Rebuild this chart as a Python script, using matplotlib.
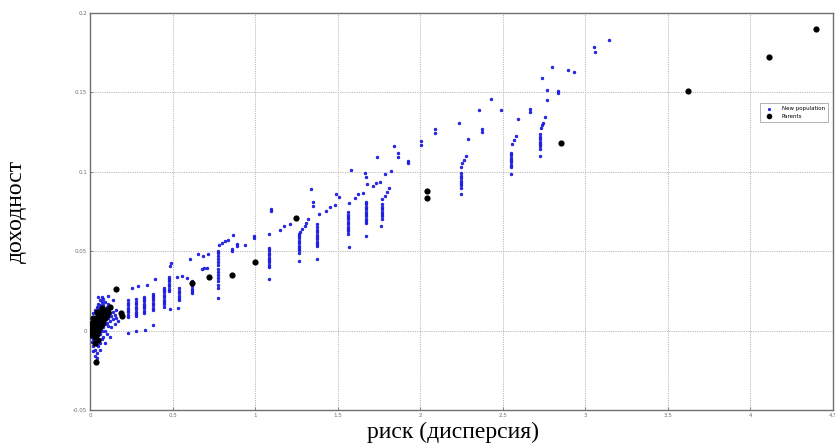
"""Risk / return scatter: new population vs parents."""

import matplotlib.pyplot as plt

OUT_PATH = "out.png"

X_TICKS = [0, 0.5, 1, 1.5, 2, 2.5, 3, 3.5, 4, 4.5]
X_TICK_LABELS = ["0", "0.5", "1", "1.5", "2", "2.5", "3", "3.5", "4", "4.5"]
Y_TICKS = [-0.05, 0, 0.05, 0.1, 0.15, 0.2]
Y_TICK_LABELS = ["-0.05", "0", "0.05", "0.1", "0.15", "0.2"]

# parents (black dots)
PARENT_X = [4.40, 4.11, 3.62, 2.85, 2.04, 2.04, 1.25, 1.00, 0.86, 0.72, 0.615,
            0.16, 0.195, 0.19, 0.035,
            0.00, 0.01, 0.01, 0.02, 0.02, 0.03, 0.03, 0.03, 0.04, 0.04, 0.04,
            0.05, 0.05, 0.05, 0.05, 0.06, 0.06, 0.06, 0.07, 0.07, 0.07, 0.08,
            0.08, 0.09, 0.10, 0.11, 0.02, 0.01, 0.04, 0.03, 0.12, 0.09]
PARENT_Y = [0.190, 0.172, 0.151, 0.118, 0.0876, 0.0838, 0.071, 0.043, 0.035, 0.034, 0.030,
            0.026, 0.009, 0.011, -0.020,
            0.000, 0.002, -0.003, 0.004, -0.001, 0.006, 0.001, -0.004, 0.008, 0.003, -0.002,
            0.010, 0.005, 0.000, -0.006, 0.012, 0.007, 0.002, 0.009, 0.004, 0.014, 0.011,
            0.006, 0.008, 0.010, 0.012, 0.008, 0.005, 0.012, -0.008, 0.015, 0.013]

# new population: dense cloud near the origin
CLOUD_X = [0.00, 0.00, 0.01, 0.01, 0.01, 0.02, 0.02, 0.02, 0.02, 0.03, 0.03, 0.03, 0.03,
           0.04, 0.04, 0.04, 0.04, 0.05, 0.05, 0.05, 0.05, 0.06, 0.06, 0.06, 0.06,
           0.07, 0.07, 0.07, 0.08, 0.08, 0.08, 0.08, 0.09, 0.09, 0.09, 0.10, 0.10, 0.10,
           0.11, 0.11, 0.11, 0.12, 0.12, 0.13, 0.13, 0.13, 0.14, 0.14, 0.15, 0.15,
           0.16, 0.16, 0.17, 0.14, 0.11, 0.07, 0.05, 0.12, 0.09, 0.06, 0.04]
CLOUD_Y = [0.003, -0.004, 0.008, -0.007, 0.000, 0.011, -0.005, -0.010, -0.013, 0.013, -0.007,
           -0.012, -0.016, 0.015, -0.005, -0.009, -0.014, 0.017, 0.014, -0.003, -0.010,
           0.019, 0.016, -0.002, -0.008, 0.018, 0.000, -0.005, 0.020, 0.016, 0.002, -0.004,
           0.018, 0.004, 0.000, 0.015, 0.005, -0.002, 0.017, 0.008, 0.003, 0.011, 0.006,
           0.014, 0.009, 0.002, 0.012, 0.007, 0.010, 0.004, 0.013, 0.008, 0.006, 0.019,
           0.022, 0.021, 0.021, -0.004, -0.008, -0.012, -0.017]

# new population: vertical columns (x position -> y values)
COLUMN_X = [0.232, 0.278, 0.328, 0.383, 0.449, 0.478, 0.540, 0.615, 0.776, 1.084,
            1.264, 1.374, 1.564, 1.669, 1.767, 2.247, 2.549, 2.725]
COLUMN_Y = [
    [0.0085, 0.010, 0.0115, 0.013, 0.0145, 0.016, 0.0175, 0.019],
    [0.009, 0.0105, 0.012, 0.0135, 0.015, 0.0165, 0.018, 0.020],
    [0.011, 0.0125, 0.014, 0.0155, 0.017, 0.0185, 0.020, 0.021],
    [0.013, 0.0145, 0.016, 0.0175, 0.019, 0.0205, 0.022, 0.023],
    [0.015, 0.0165, 0.018, 0.0195, 0.021, 0.0225, 0.024, 0.0255, 0.027],
    [0.025, 0.0265, 0.028, 0.0295, 0.031, 0.0325, 0.034],
    [0.019, 0.0205, 0.022, 0.0235, 0.025, 0.027],
    [0.0235, 0.025, 0.0265, 0.028, 0.0295, 0.031],
    [0.027, 0.029, 0.031, 0.033, 0.035, 0.037, 0.039, 0.041, 0.043, 0.045, 0.047, 0.049, 0.050],
    [0.040, 0.0415, 0.043, 0.0445, 0.046, 0.0475, 0.049, 0.0505, 0.052],
    [0.049, 0.0505, 0.052, 0.0535, 0.055, 0.0565, 0.058, 0.0595, 0.061],
    [0.053, 0.0545, 0.056, 0.0575, 0.059, 0.0605, 0.062, 0.0635, 0.065, 0.067],
    [0.061, 0.0625, 0.064, 0.0655, 0.067, 0.0685, 0.070, 0.0715, 0.073, 0.075],
    [0.0675, 0.069, 0.0705, 0.072, 0.0735, 0.075, 0.0765, 0.078, 0.0795, 0.081],
    [0.0705, 0.072, 0.0735, 0.075, 0.0765, 0.078, 0.0795],
    [0.090, 0.0915, 0.093, 0.0945, 0.096, 0.0975, 0.099],
    [0.103, 0.1045, 0.106, 0.1075, 0.109, 0.1105, 0.112],
    [0.1145, 0.116, 0.1175, 0.119, 0.1205, 0.122, 0.1235],
]

# new population: scattered points
SCATTER_X = [3.144, 3.053, 3.059, 2.799, 2.896, 2.932, 2.739, 2.769, 2.836, 2.836, 2.769,
             2.430, 2.358, 2.491, 2.666, 2.666, 2.594, 2.757, 2.745, 2.739, 2.733, 2.237,
             2.092, 2.092, 2.376, 2.376, 2.582, 2.570, 2.557, 2.291, 2.007, 2.007, 1.844,
             1.868, 1.868, 1.929, 1.929, 2.279, 2.267, 2.255, 2.249, 1.826, 1.784, 1.741,
             1.808, 1.796, 1.784, 1.771, 1.711, 1.735, 1.759, 1.765, 2.551, 2.249, 2.727,
             1.578, 1.663, 1.669, 1.675, 1.651, 1.626, 1.608, 1.487, 1.506, 1.566, 1.336,
             1.348, 1.348, 1.481, 1.451, 1.427, 1.385, 1.094, 1.094, 1.318, 1.306, 1.300,
             1.282, 1.270, 1.209, 1.173, 1.149, 1.082, 0.992, 0.992, 0.865, 0.834, 0.816,
             0.798, 0.780, 0.889, 0.889, 0.937, 0.859, 0.859, 0.713, 0.683, 0.653, 0.707,
             0.689, 0.677, 0.605, 0.490, 0.484, 0.556, 0.586, 0.526, 0.393, 0.345, 0.290,
             0.254, 0.484, 0.532, 0.381, 0.333, 0.278, 0.230, 0.774, 1.082, 1.264, 1.372,
             1.566, 1.669]
SCATTER_Y = [0.1833, 0.1788, 0.1757, 0.1662, 0.1644, 0.1631, 0.1593, 0.1518, 0.1511, 0.1499,
             0.1455, 0.1461, 0.1392, 0.1392, 0.1398, 0.1379, 0.1335, 0.1348, 0.1310, 0.1297,
             0.1278, 0.1310, 0.1272, 0.1247, 0.1272, 0.1253, 0.1228, 0.1203, 0.1178, 0.1209,
             0.1196, 0.1171, 0.1165, 0.1121, 0.1096, 0.1071, 0.1058, 0.1102, 0.1077, 0.1058,
             0.1033, 0.1008, 0.0989, 0.1096, 0.0900, 0.0875, 0.0850, 0.0831, 0.0913, 0.0932,
             0.0938, 0.0661, 0.0989, 0.0863, 0.1102, 0.1014, 0.0995, 0.0970, 0.0926, 0.0869,
             0.0863, 0.0838, 0.0863, 0.0844, 0.0806, 0.0894, 0.0812, 0.0787, 0.0793, 0.0781,
             0.0756, 0.0737, 0.0768, 0.0756, 0.0705, 0.0680, 0.0661, 0.0642, 0.0623, 0.0674,
             0.0661, 0.0636, 0.0611, 0.0598, 0.0586, 0.0605, 0.0573, 0.0567, 0.0554, 0.0542,
             0.0548, 0.0535, 0.0542, 0.0516, 0.0504, 0.0485, 0.0472, 0.0485, 0.0397, 0.0397,
             0.0390, 0.0453, 0.0428, 0.0409, 0.0346, 0.0334, 0.0340, 0.0327, 0.0290, 0.0283,
             0.0271, 0.0139, 0.0145, 0.0038, 0.0006, 0.0000, -0.0013, 0.0208, 0.0327, 0.0441,
             0.0453, 0.0529, 0.0598]

BLUE = "#2a2aff"
GRID_COLOR = "#b8b8b8"
FRAME_COLOR = "#707070"


def main() -> None:
    fig = plt.figure(figsize=(8.35, 4.47), dpi=100)
    ax = fig.add_axes([90 / 835, 37 / 447, 743 / 835, 397 / 447])

    new_x = list(CLOUD_X) + list(SCATTER_X)
    new_y = list(CLOUD_Y) + list(SCATTER_Y)
    for x, ys in zip(COLUMN_X, COLUMN_Y):
        new_x += [x] * len(ys)
        new_y += ys

    ax.scatter(new_x, new_y, s=4.5, marker="o", facecolor=BLUE, edgecolor="#0000b0",
               linewidth=0.3, label="New population", zorder=3)
    ax.scatter(PARENT_X, PARENT_Y, s=20, marker="o", color="black", linewidth=0,
               label="Parents", zorder=4)

    ax.set_xlim(0, 4.5)
    ax.set_ylim(-0.05, 0.2)
    ax.set_xticks(X_TICKS)
    ax.set_xticklabels(X_TICK_LABELS)
    ax.set_yticks(Y_TICKS)
    ax.set_yticklabels(Y_TICK_LABELS)
    ax.tick_params(direction="in", length=2, width=0.6, labelsize=4,
                   colors=FRAME_COLOR, pad=2)
    ax.grid(True, color=GRID_COLOR, linestyle=(0, (1.2, 1.2)), linewidth=0.7)
    ax.set_axisbelow(True)
    for spine in ax.spines.values():
        spine.set_color(FRAME_COLOR)
        spine.set_linewidth(1.0)

    leg = ax.legend(loc="upper right", bbox_to_anchor=(0.997, 0.781), fontsize=4,
                    frameon=True, fancybox=False, borderpad=0.6, handletextpad=1.2,
                    markerscale=0.9)
    leg.get_frame().set_edgecolor("#909090")
    leg.get_frame().set_linewidth(0.6)

    fig.text(453 / 835, 1 - 432 / 447, "риск (дисперсия)", ha="center", va="center",
             fontsize=17, family="Liberation Serif")
    fig.text(16 / 835, 1 - 211 / 447, "доходност", ha="center", va="center",
             rotation=90, fontsize=17, family="Liberation Serif")

    fig.savefig(OUT_PATH, dpi=100)
    plt.close(fig)


if __name__ == "__main__":
    main()
